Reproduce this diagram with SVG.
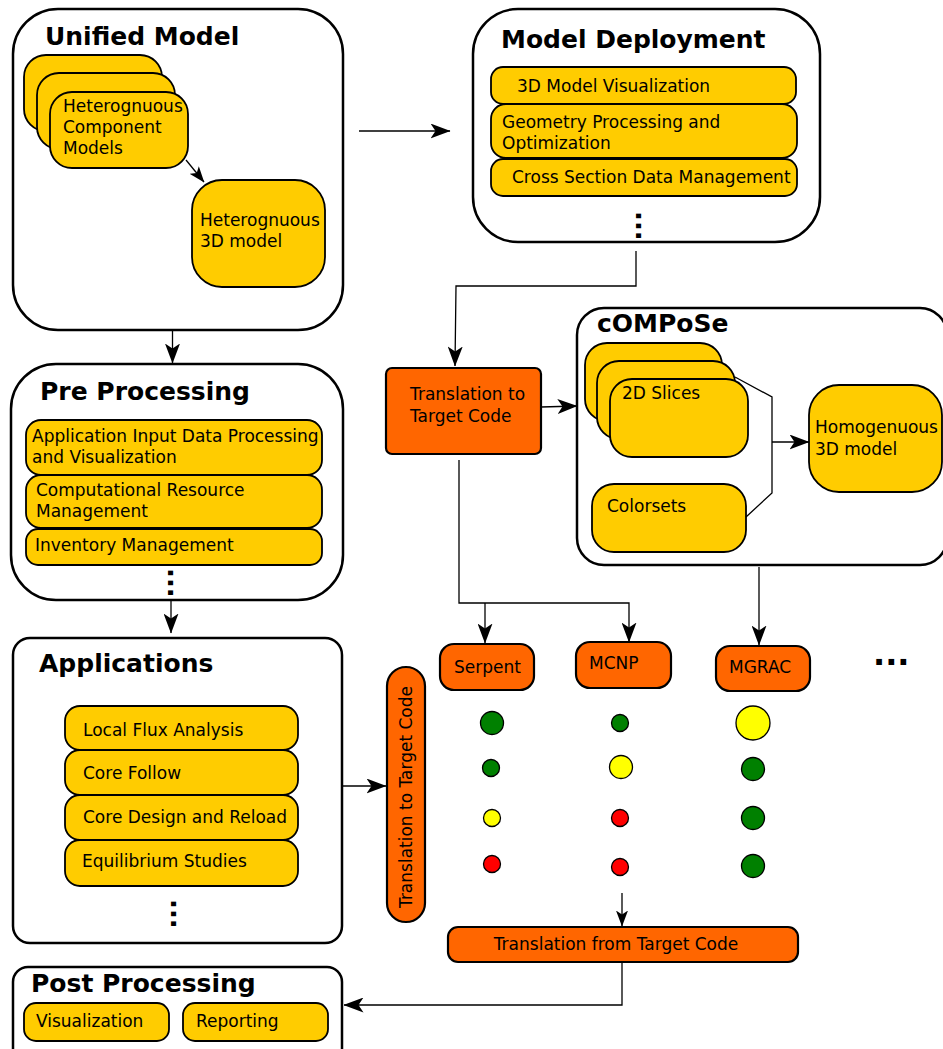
<svg xmlns="http://www.w3.org/2000/svg" width="943" height="1049" viewBox="0 0 943 1049">
<defs>
<marker id="ah" markerUnits="userSpaceOnUse" markerWidth="20" markerHeight="15" refX="19.5" refY="7.5" orient="auto">
<path d="M0,0 L20,7.5 L0,15 L5,7.5 Z" fill="#000"/>
</marker>
<marker id="ahs" markerUnits="userSpaceOnUse" markerWidth="16" markerHeight="12" refX="15.5" refY="6" orient="auto">
<path d="M0,0 L16,6 L0,12 L4,6 Z" fill="#000"/>
</marker>
</defs>
<style>
text{font-family:"DejaVu Sans","Liberation Sans",sans-serif;fill:#000}
.t{font-size:17px}
.h{font-size:25px;font-weight:bold}
.dots{font-size:26px;font-weight:bold}
.box{fill:#fff;stroke:#000;stroke-width:2.5}
.y{fill:#ffcc00;stroke:#000;stroke-width:1.8}
.o{fill:#ff6600;stroke:#000;stroke-width:2.2}
.c{stroke:#000;stroke-width:1.3}
.g{fill:#008000}.yl{fill:#ffff00}.r{fill:#ff0000}
#connectors path,#connectors line{fill:none;stroke:#000;stroke-width:1.3}
</style>
<rect width="943" height="1049" fill="#fff"/>

<g id="unified-model">
<rect class="box" x="13" y="9" width="330" height="321" rx="45"/>
<text class="h" x="45" y="45">Unified Model</text>
<rect class="y" x="24" y="55" width="138" height="76" rx="22"/>
<rect class="y" x="37" y="73" width="138" height="76" rx="22"/>
<rect class="y" x="50" y="92" width="138" height="76" rx="22"/>
<text class="t" x="63" y="112">Heterognuous</text>
<text class="t" x="63" y="133">Component</text>
<text class="t" x="63" y="154">Models</text>
<rect class="y" x="192" y="180" width="133" height="107" rx="30"/>
<text class="t" x="200" y="226">Heterognuous</text>
<text class="t" x="200" y="247">3D model</text>
</g>

<g id="model-deployment">
<rect class="box" x="473" y="9" width="347" height="233" rx="45"/>
<text class="h" x="501" y="48">Model Deployment</text>
<rect class="y" x="491" y="67" width="305" height="37" rx="12"/>
<text class="t" x="517" y="92">3D Model Visualization</text>
<rect class="y" x="491" y="104" width="306" height="54" rx="15"/>
<text class="t" x="502" y="128">Geometry Processing and</text>
<text class="t" x="502" y="149">Optimization</text>
<rect class="y" x="491" y="159" width="306" height="37" rx="12"/>
<text class="t" x="512" y="183">Cross Section Data Management</text>
<text class="dots" transform="translate(636,211) rotate(90)">...</text>
</g>

<g id="translation-top">
<rect class="o" x="386" y="368" width="155" height="86" rx="6"/>
<text class="t" x="410" y="400">Translation to</text>
<text class="t" x="410" y="422">Target Code</text>
</g>

<g id="compose">
<rect class="box" x="577" y="308" width="370" height="257" rx="27"/>
<text class="h" x="597" y="332">cOMPoSe</text>
<rect class="y" x="585" y="343" width="137" height="78" rx="22"/>
<rect class="y" x="597" y="361" width="138" height="78" rx="22"/>
<rect class="y" x="610" y="379" width="138" height="78" rx="22"/>
<text class="t" x="622" y="399">2D Slices</text>
<rect class="y" x="592" y="484" width="154" height="68" rx="22"/>
<text class="t" x="607" y="512">Colorsets</text>
<rect class="y" x="809" y="385" width="133" height="107" rx="30"/>
<text class="t" x="815" y="433">Homogenuous</text>
<text class="t" x="815" y="455">3D model</text>
</g>

<g id="pre-processing">
<rect class="box" x="11" y="364" width="332" height="236" rx="45"/>
<text class="h" x="40" y="400">Pre Processing</text>
<rect class="y" x="26" y="420" width="296" height="55" rx="15"/>
<text class="t" x="32" y="442">Application Input Data Processing</text>
<text class="t" x="32" y="463">and Visualization</text>
<rect class="y" x="26" y="475" width="296" height="53" rx="15"/>
<text class="t" x="36" y="496">Computational Resource</text>
<text class="t" x="36" y="517">Management</text>
<rect class="y" x="26" y="529" width="296" height="36" rx="12"/>
<text class="t" x="35" y="551">Inventory Management</text>
<text class="dots" transform="translate(168,568) rotate(90)">...</text>
</g>

<g id="applications">
<rect class="box" x="13" y="638" width="329" height="305" rx="17"/>
<text class="h" x="39" y="672">Applications</text>
<rect class="y" x="65" y="706" width="233" height="44" rx="15"/>
<text class="t" x="83" y="736">Local Flux Analysis</text>
<rect class="y" x="65" y="750" width="233" height="45" rx="15"/>
<text class="t" x="83" y="779">Core Follow</text>
<rect class="y" x="65" y="795" width="233" height="45" rx="15"/>
<text class="t" x="83" y="823">Core Design and Reload</text>
<rect class="y" x="65" y="840" width="233" height="46" rx="15"/>
<text class="t" x="82" y="867">Equilibrium Studies</text>
<text class="dots" transform="translate(171,899) rotate(90)">...</text>
</g>

<g id="translation-vertical">
<rect class="o" x="387" y="667" width="38" height="255" rx="19"/>
<text class="t" transform="translate(412,908) rotate(-90)">Translation to Target Code</text>
</g>

<g id="serpent">
<rect class="o" x="440" y="644" width="94" height="46" rx="14"/>
<text class="t" x="454" y="673">Serpent</text>
<circle class="c g" cx="492" cy="723" r="11.5"/>
<circle class="c g" cx="491" cy="768" r="8.5"/>
<circle class="c yl" cx="492" cy="818" r="8.5"/>
<circle class="c r" cx="492" cy="864" r="8.5"/>
</g>

<g id="mcnp">
<rect class="o" x="576" y="642" width="95" height="46" rx="14"/>
<text class="t" x="589" y="669">MCNP</text>
<circle class="c g" cx="620" cy="723" r="8.5"/>
<circle class="c yl" cx="621" cy="767" r="11.5"/>
<circle class="c r" cx="620" cy="818" r="8.5"/>
<circle class="c r" cx="620" cy="867" r="8.5"/>
</g>

<g id="mgrac">
<rect class="o" x="716" y="646" width="94" height="45" rx="14"/>
<text class="t" x="729" y="673">MGRAC</text>
<circle class="c yl" cx="753" cy="723" r="17"/>
<circle class="c g" cx="753" cy="769" r="11.5"/>
<circle class="c g" cx="753" cy="818" r="11.5"/>
<circle class="c g" cx="753" cy="866" r="11.5"/>
</g>

<g id="more">
<text x="873" y="665" style="font-size:32px;font-weight:bold">...</text>
</g>

<g id="translation-from">
<rect class="o" x="448" y="927" width="350" height="35" rx="10"/>
<text class="t" x="616" y="950" text-anchor="middle">Translation from Target Code</text>
</g>

<g id="post-processing">
<rect class="box" x="13" y="967" width="329" height="100" rx="15"/>
<text class="h" x="31" y="992">Post Processing</text>
<rect class="y" x="24" y="1003" width="145" height="38" rx="12"/>
<text class="t" x="36" y="1027">Visualization</text>
<rect class="y" x="183" y="1003" width="145" height="38" rx="12"/>
<text class="t" x="196" y="1027">Reporting</text>
</g>

<g id="connectors">
<line x1="186" y1="160" x2="204" y2="182" marker-end="url(#ahs)"/>
<line x1="359" y1="131" x2="450" y2="131" marker-end="url(#ah)"/>
<path d="M636,251 L636,286 L456,286 L455,366" marker-end="url(#ah)"/>
<line x1="172.5" y1="331" x2="172.5" y2="363" marker-end="url(#ah)"/>
<line x1="171" y1="600" x2="171" y2="633" marker-end="url(#ah)"/>
<line x1="343" y1="786" x2="386" y2="786" marker-end="url(#ah)"/>
<line x1="541" y1="407" x2="577" y2="406" marker-end="url(#ah)"/>
<path d="M735,377 L772,397 L772,493 L746,517"/>
<line x1="772" y1="442" x2="809" y2="442" marker-end="url(#ah)"/>
<path d="M459,460 L459,603 L629,603 L629,642" marker-end="url(#ah)"/>
<line x1="485" y1="603" x2="485" y2="643" marker-end="url(#ah)"/>
<line x1="759" y1="567" x2="759" y2="645" marker-end="url(#ah)"/>
<line x1="622" y1="893" x2="622" y2="926" marker-end="url(#ahs)"/>
<path d="M622,963 L622,1005 L344,1005" marker-end="url(#ah)"/>
</g>
</svg>
